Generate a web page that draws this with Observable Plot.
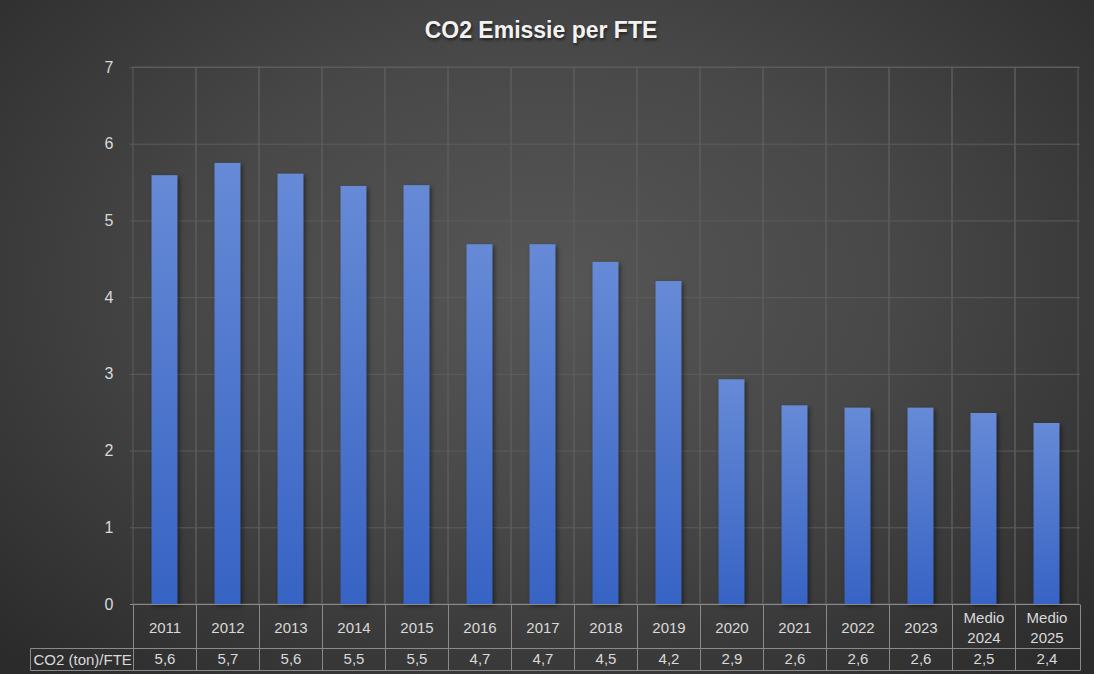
<!DOCTYPE html>
<html>
<head>
<meta charset="utf-8">
<script src="https://cdn.jsdelivr.net/npm/d3@7"></script>
<script src="https://cdn.jsdelivr.net/npm/@observablehq/plot@0.6"></script>
<style>
  html, body { margin: 0; padding: 0; }
  body { width: 1094px; height: 674px; overflow: hidden; background: #333; }
  #chart {
    position: relative; width: 1094px; height: 674px;
    background: radial-gradient(ellipse 70% 78% at 50% 42%, #565656 0%, #484848 45%, #2b2b2b 100%);
    font-family: "Liberation Sans Narrow", "Liberation Sans", sans-serif;
  }
  #title {
    position: absolute; top: 17px; left: 0; width: 1082px; text-align: center;
    font-size: 23px; font-weight: bold; color: #f2f2f2;
    text-shadow: 1px 2px 3px rgba(0,0,0,0.55);
  }
  #chart svg { position: absolute; left: 0; top: 0; }
</style>
</head>
<body>
<div id="chart"><div id="title"></div></div>
<script>
const titleText = "CO2 Emissie per FTE";
const categories = ["2011","2012","2013","2014","2015","2016","2017","2018","2019","2020","2021","2022","2023","Medio\n2024","Medio\n2025"];
const values = [5.59, 5.75, 5.61, 5.45, 5.46, 4.69, 4.69, 4.46, 4.21, 2.93, 2.59, 2.56, 2.56, 2.49, 2.36];
const valueLabels = ["5,6","5,7","5,6","5,5","5,5","4,7","4,7","4,5","4,2","2,9","2,6","2,6","2,6","2,5","2,4"];
const yTicks = [0, 1, 2, 3, 4, 5, 6, 7];
const rowLabel = "CO2 (ton)/FTE";

const data = categories.map((c, i) => ({category: c, value: values[i], label: valueLabels[i]}));

document.getElementById("title").textContent = titleText;

const font = '"Liberation Sans Narrow", "Liberation Sans", sans-serif';
const textColor = "#d9d9d9";

const plot = Plot.plot({
  width: 1094,
  height: 674,
  marginTop: 67,
  marginBottom: 70,
  marginLeft: 130,
  marginRight: 14,
  style: {background: "transparent", color: textColor, fontFamily: font, fontSize: "15px", overflow: "visible"},
  x: {domain: categories, padding: 0, axis: null},
  y: {domain: [0, 7], axis: null},
  marks: [
    Plot.gridY(yTicks.filter(t => t > 0), {stroke: "#5d5d5d", strokeOpacity: 1}),
    Plot.cell(data, {x: "category", fill: "none", stroke: "#5d5d5d"}),
    Plot.axisY(yTicks, {tickSize: 0, tickPadding: 17, tickFormat: d => String(d), label: null, fill: textColor, fontSize: 16}),
    Plot.barY(data, {x: "category", y: "value", fill: "url(#barGrad)", insetLeft: 18.5, insetRight: 18.5}),
    Plot.text(data, {x: "category", text: "category", frameAnchor: "bottom", dy: 22, lineAnchor: "middle", lineHeight: 1.35, fill: textColor, fontSize: 15}),
    Plot.text(data, {x: "category", text: "label", frameAnchor: "bottom", dy: 55, lineAnchor: "middle", fill: textColor, fontSize: 15})
  ]
});

const svg = d3.select(plot);
const defs = svg.insert("defs", ":first-child");
const grad = defs.append("linearGradient").attr("id", "barGrad")
  .attr("x1", 0).attr("y1", 0).attr("x2", 0).attr("y2", 1);
grad.append("stop").attr("offset", "0%").attr("stop-color", "#668ad6");
grad.append("stop").attr("offset", "100%").attr("stop-color", "#3763c4");
svg.selectAll('g[aria-label="bar"] rect').style("filter", "drop-shadow(2px 2px 2px rgba(0,0,0,0.45))");

// data table grid, positioned from Plot's own scales
const xs = plot.scale("x");
const ys = plot.scale("y");
const left = xs.range[0], right = xs.range[1];
const y0 = Math.round(ys.apply(0)) + 0.5;
const row1 = 44, row2 = 22, headerLeft = 30.5;
const g = svg.append("g").attr("stroke", "#8a8a8a").attr("stroke-width", 1).attr("fill", "none");
const hline = (x1, x2, y) => g.append("line").attr("x1", x1).attr("x2", x2).attr("y1", y).attr("y2", y);
const vline = (x, y1, y2) => g.append("line").attr("x1", x).attr("x2", x).attr("y1", y1).attr("y2", y2);
hline(left, right, y0);
hline(headerLeft, right, y0 + row1);
hline(headerLeft, right, y0 + row1 + row2);
categories.forEach(c => vline(Math.round(xs.apply(c)) + 0.5, y0, y0 + row1 + row2));
vline(Math.round(right) + 0.5, y0, y0 + row1 + row2);
vline(headerLeft, y0 + row1, y0 + row1 + row2);
svg.append("text")
  .attr("x", headerLeft + 3).attr("y", y0 + row1 + row2 / 2)
  .attr("dy", "0.35em")
  .attr("text-anchor", "start")
  .attr("fill", textColor).attr("font-size", 15).attr("font-family", font)
  .text(rowLabel);

document.getElementById("chart").appendChild(plot);
</script>
</body>
</html>
